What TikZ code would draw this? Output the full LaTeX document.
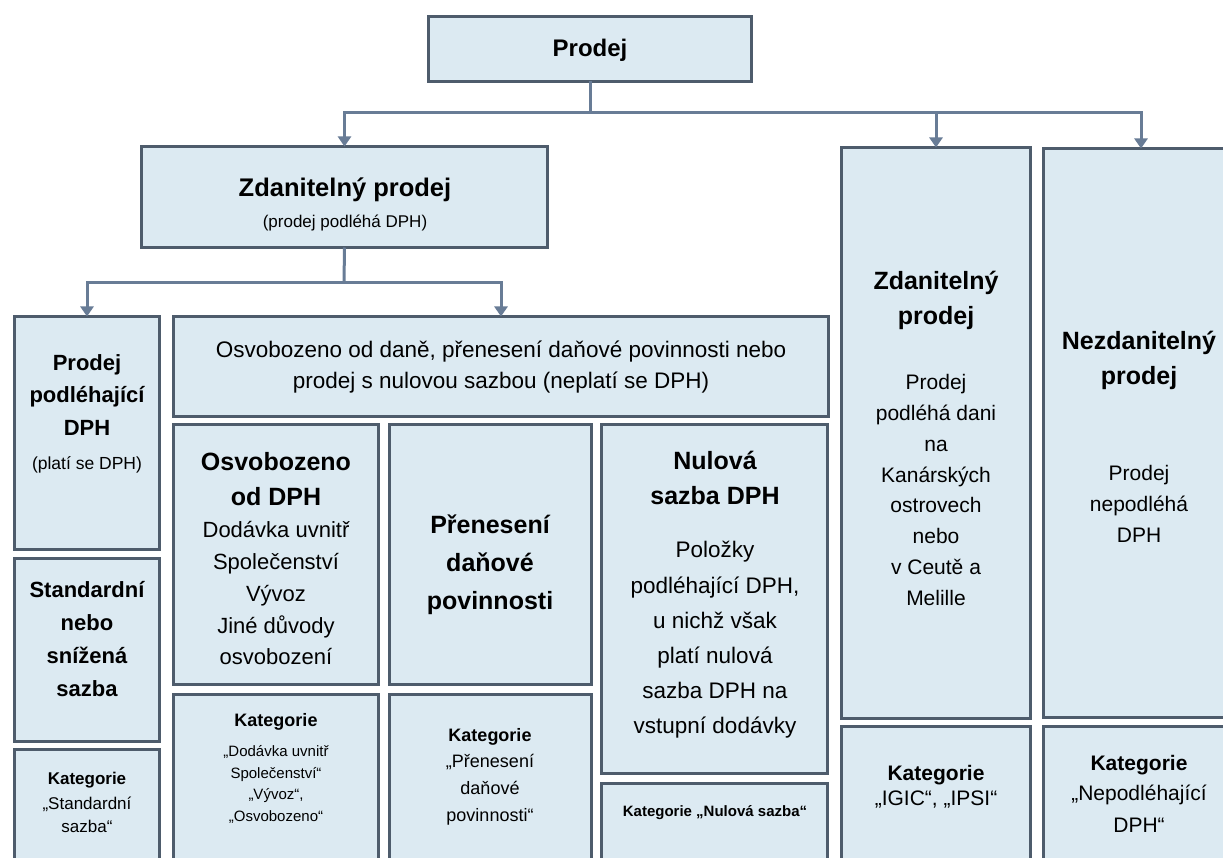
\documentclass[tikz,border=0pt]{standalone}
\usepackage{fontspec}
\setmainfont{Liberation Sans}
\usetikzlibrary{arrows.meta}
\definecolor{boxfill}{RGB}{220,234,242}
\definecolor{boxline}{RGB}{78,92,108}
\definecolor{linkline}{RGB}{104,124,150}
\newcommand{\fs}[2]{\fontsize{#1}{#2}\selectfont}
\begin{document}
\begin{tikzpicture}[x=1pt,y=-1pt,
  panel/.style={draw=boxline, line width=3pt, fill=boxfill, inner sep=0pt, outer sep=0pt, anchor=north west},
  txt/.style={align=center, inner sep=0pt, text=black},
  link/.style={draw=linkline, line width=3pt},
  linkarrow/.style={link, -{Triangle[width=13pt,length=10pt]}}]
\fill[white] (0,0) rectangle (1223,858);
\useasboundingbox (0,0) rectangle (1223,858);

% panels
\node[panel, minimum width=323pt, minimum height=65pt]  (prodej) at (428.5,16.5) {};
\node[panel, minimum width=406pt, minimum height=101pt] (zp)     at (141.5,146.5) {};
\node[panel, minimum width=145pt, minimum height=233pt] (l1)     at (14.5,316.5) {};
\node[panel, minimum width=145pt, minimum height=183pt] (l2)     at (14.5,558.5) {};
\node[panel, minimum width=145pt, minimum height=130pt] (l3)     at (14.5,749.5) {};
\node[panel, minimum width=655pt, minimum height=100pt] (mt)     at (173.5,316.5) {};
\node[panel, minimum width=205pt, minimum height=260pt] (o1)     at (173.5,424.5) {};
\node[panel, minimum width=205pt, minimum height=185pt] (o2)     at (173.5,694.5) {};
\node[panel, minimum width=202pt, minimum height=260pt] (p1)     at (389.5,424.5) {};
\node[panel, minimum width=202pt, minimum height=185pt] (p2)     at (389.5,694.5) {};
\node[panel, minimum width=226pt, minimum height=349pt] (n1)     at (601.5,424.5) {};
\node[panel, minimum width=226pt, minimum height=95pt]  (n2)     at (601.5,783.5) {};
\node[panel, minimum width=189pt, minimum height=571pt] (r1)     at (841.5,147.5) {};
\node[panel, minimum width=189pt, minimum height=152pt] (r2)     at (841.5,726.5) {};
\node[panel, minimum width=195pt, minimum height=569pt] (s1)     at (1043.5,148.5) {};
\node[panel, minimum width=195pt, minimum height=152pt] (s2)     at (1043.5,726.5) {};

% connectors
\coordinate (j1) at (590,113);
\coordinate (j2) at (344,283);
\draw[link] (prodej.south) -- (j1);
\draw[linkarrow] (j1) -| (zp.north);
\draw[linkarrow] (j1) -| (r1.north);
\draw[linkarrow] (j1) -| (s1.north);
\draw[link] (zp.south) -- (j2);
\draw[linkarrow] (j2) -| (l1.north);
\draw[linkarrow] (j2) -| (mt.north);

% texts
\node[txt, font=\fs{24}{30}\bfseries] (tprodej) at (590,50) {Prodej};
\node[txt, font=\fs{25.5}{30}\bfseries] (tzp) at (345,190) {Zdanitelný prodej};
\node[txt, font=\fs{17}{20}] (tzpsub) at (345,223) {(prodej podléhá DPH)};

\node[txt, font=\fs{22}{32.5}\bfseries] (tl1) at (87,395) {Prodej\\podléhající\\DPH};
\node[txt, font=\fs{17.5}{20}] (tl1sub) at (87,465) {(platí se DPH)};
\node[txt, font=\fs{22}{32.7}\bfseries] (tl2) at (87,639) {Standardní\\nebo\\snížená\\sazba};
\node[txt, font=\fs{17}{26}\bfseries] (tl3a) at (87,780) {Kategorie};
\node[txt, font=\fs{17}{23.5}] (tl3b) at (87,815) {„Standardní\\sazba“};

\node[txt, font=\fs{22.5}{30.5}] (tmt) at (501,367) {Osvobozeno od daně, přenesení daňové povinnosti nebo\\prodej s nulovou sazbou (neplatí se DPH)};

\node[txt, font=\fs{25}{35}\bfseries] (to1a) at (276,479.5) {Osvobozeno\\od DPH};
\node[txt, font=\fs{22}{31.75}] (to1b) at (276,593.5) {Dodávka uvnitř\\Společenství\\Vývoz\\Jiné důvody\\osvobození};
\node[txt, font=\fs{18}{22}\bfseries] (to2a) at (276,722) {Kategorie};
\node[txt, font=\fs{15}{21.7}] (to2b) at (276,784.5) {„Dodávka uvnitř\\Společenství“\\„Vývoz“,\\„Osvobozeno“};

\node[txt, font=\fs{25}{38}\bfseries] (tp1) at (490,565) {Přenesení\\daňové\\povinnosti};
\node[txt, font=\fs{18}{26}\bfseries] (tp2a) at (490,737) {Kategorie};
\node[txt, font=\fs{18}{27}] (tp2b) at (490,790) {„Přenesení\\daňové\\povinnosti“};

\node[txt, font=\fs{25}{35}\bfseries] (tn1a) at (715,477.5) {Nulová\\sazba DPH};
\node[txt, font=\fs{22.5}{35.2}] (tn1b) at (715,640) {Položky\\podléhající DPH,\\u nichž však\\platí nulová\\sazba DPH na\\vstupní dodávky};
\node[txt, font=\fs{15}{20}\bfseries] (tn2) at (715,813) {Kategorie „Nulová sazba“};

\node[txt, font=\fs{25}{35}\bfseries] (tr1a) at (936,300.5) {Zdanitelný\\prodej};
\node[txt, font=\fs{21}{30.9}] (tr1b) at (936,490) {Prodej\\podléhá dani\\na\\Kanárských\\ostrovech\\nebo\\v Ceutě a\\Melille};
\node[txt, font=\fs{21}{25}\bfseries] (tr2a) at (936,775) {Kategorie};
\node[txt, font=\fs{21}{25}] (tr2b) at (936,800) {„IGIC“, „IPSI“};

\node[txt, font=\fs{25}{35}\bfseries] (ts1a) at (1139,360.5) {Nezdanitelný\\prodej};
\node[txt, font=\fs{21}{31}] (ts1b) at (1139,504) {Prodej\\nepodléhá\\DPH};
\node[txt, font=\fs{21}{28}\bfseries] (ts2a) at (1139,765) {Kategorie};
\node[txt, font=\fs{21}{32}] (ts2b) at (1139,809) {„Nepodléhající\\DPH“};
\end{tikzpicture}
\end{document}
